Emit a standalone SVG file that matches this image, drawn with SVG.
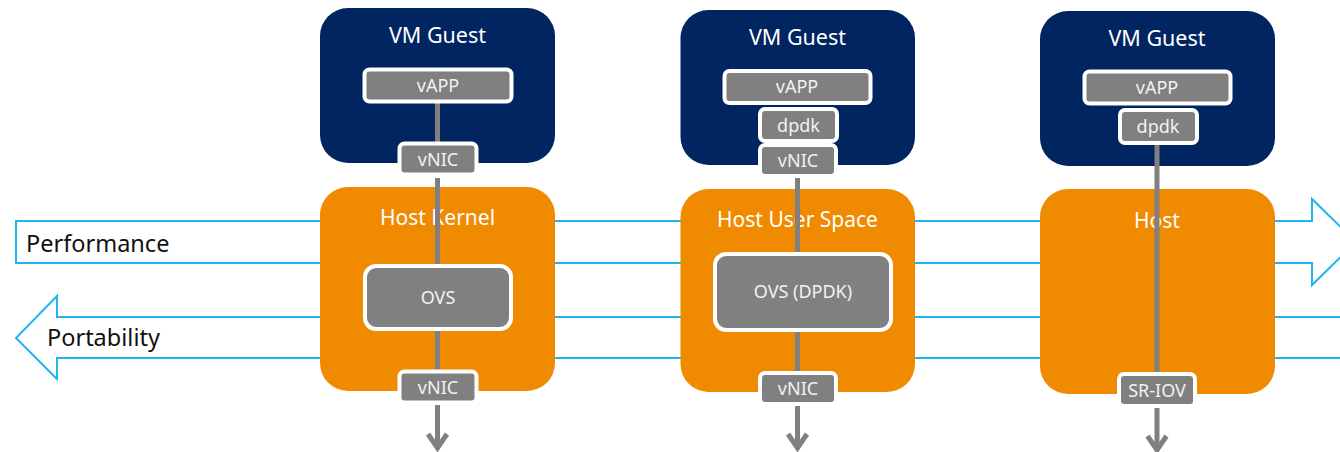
<svg xmlns="http://www.w3.org/2000/svg" width="1340" height="452" viewBox="0 0 1340 452">
<style>
.guest{fill:#002561}
.host{fill:#f08a00}
.box{fill:#808080;stroke:#fff;stroke-width:4}
.flow{fill:#fff;stroke:#1fb6f0;stroke-width:2}
.line{fill:none;stroke:#808080;stroke-width:5}
.head{fill:none;stroke:#808080;stroke-width:5}
text{font-family:"Noto Sans","Open Sans","Liberation Sans",sans-serif;text-anchor:middle}
.t{fill:#fff;font-size:21.500px}
.h{fill:#fff;font-size:21px}
.b{fill:#f2f2f2;font-size:18px}
.l{fill:#111;font-size:23.500px;text-anchor:start}
</style>
<g id="arrows">
<polygon id="performance" class="flow" points="16,221 1312,221 1312,199 1356,242 1312,285 1312,263 16,263"/>
<polygon id="portability" class="flow" points="1342,317 57,317 57,296 16,338 57,379 57,358 1342,358"/>
<text class="l" x="26" y="252">Performance</text>
<text class="l" x="47" y="346">Portability</text>
</g>
<g id="guest1"><rect class="guest" x="320" y="8" width="235" height="155" rx="28"/><text class="t" x="437.500" y="43">VM Guest</text></g>
<g id="host1"><rect class="host" x="320" y="187" width="235" height="204" rx="28"/><text class="h" x="437.500" y="225">Host Kernel</text></g>
<g id="guest2"><rect class="guest" x="680.500" y="10" width="234.500" height="155" rx="28"/><text class="t" x="797.500" y="45">VM Guest</text></g>
<g id="host2"><rect class="host" x="680.500" y="189" width="234.500" height="203" rx="28"/><text class="h" x="797.500" y="227">Host User Space</text></g>
<g id="guest3"><rect class="guest" x="1040" y="11" width="235" height="155" rx="28"/><text class="t" x="1157" y="46">VM Guest</text></g>
<g id="host3"><rect class="host" x="1040" y="189" width="235" height="205" rx="28"/><text class="h" x="1157" y="228">Host</text></g>
<g id="connectors">
<path class="line" d="M437.500 100V146M437.500 178V268M437.500 328V374M437.500 405V449"/>
<path class="head" d="M428 434L437.500 448L447 434"/>
<path class="line" d="M797.500 178V256M797.500 330V374M797.500 405V449"/>
<path class="head" d="M788 434L797.500 448L807 434"/>
<path class="line" d="M1157 140V376M1157 408V450"/>
<path class="head" d="M1147.500 436L1157 450L1166.500 436"/>
</g>
<g id="vapp1"><rect class="box" x="364.500" y="69.500" width="147" height="32" rx="5"/><text class="b" x="438" y="92">vAPP</text></g>
<g id="vnic1a"><rect class="box" x="399.500" y="143.500" width="77" height="31" rx="5"/><text class="b" x="438" y="166">vNIC</text></g>
<g id="ovs1"><rect class="box" x="365" y="266" width="146" height="63" rx="11"/><text class="b" x="438" y="304">OVS</text></g>
<g id="vnic1b"><rect class="box" x="399.500" y="371.500" width="77" height="31" rx="5"/><text class="b" x="438" y="394">vNIC</text></g>
<g id="vapp2"><rect class="box" x="724.500" y="71" width="146" height="32" rx="5"/><text class="b" x="797" y="93">vAPP</text></g>
<g id="dpdk2"><rect class="box" x="760" y="109" width="77" height="32" rx="5"/><text class="b" x="798.500" y="132">dpdk</text></g>
<g id="vnic2a"><rect class="box" x="760" y="145" width="76" height="31" rx="5"/><text class="b" x="798" y="167">vNIC</text></g>
<g id="ovs2"><rect class="box" x="715" y="254" width="176" height="76" rx="11"/><text class="b" x="803" y="298">OVS (DPDK)</text></g>
<g id="vnic2b"><rect class="box" x="760" y="373" width="76" height="31" rx="5"/><text class="b" x="798" y="395">vNIC</text></g>
<g id="vapp3"><rect class="box" x="1084.500" y="71.500" width="146" height="32" rx="5"/><text class="b" x="1157" y="94">vAPP</text></g>
<g id="dpdk3"><rect class="box" x="1120" y="110" width="77" height="33" rx="5"/><text class="b" x="1158" y="133">dpdk</text></g>
<g id="sriov3"><rect class="box" x="1119" y="374" width="76" height="32" rx="5"/><text class="b" x="1157" y="397">SR-IOV</text></g>
</svg>
